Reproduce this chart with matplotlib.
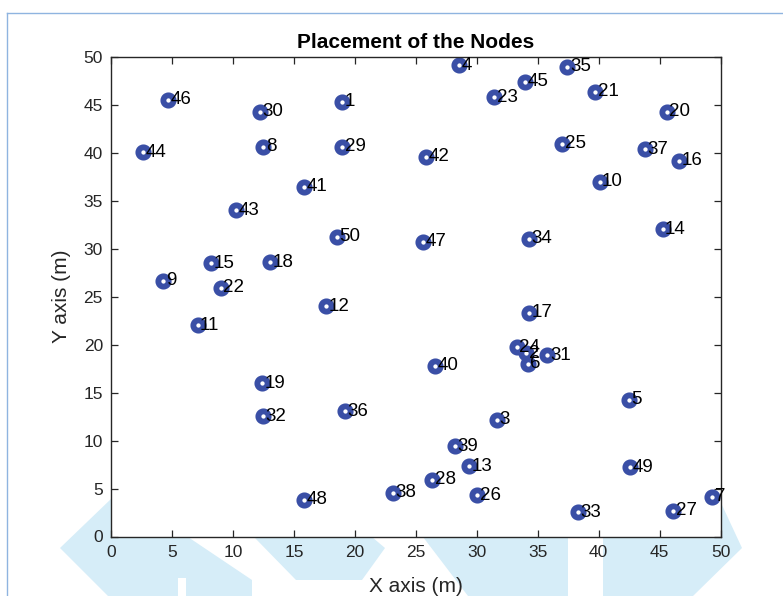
import matplotlib
matplotlib.use("Agg")
import matplotlib.pyplot as plt
from matplotlib.patches import Polygon
from matplotlib.lines import Line2D

plt.rcParams['font.family'] = ['Liberation Sans', 'DejaVu Sans']

# Node ids and coordinates (m)
node_ids = list(range(1, 51))
node_x = [18.97, 34.05, 31.64, 28.55, 42.50, 34.20, 49.34, 12.48, 4.27, 40.07,
          7.09, 17.60, 29.34, 45.24, 8.19, 46.63, 34.29, 13.00, 12.40, 45.60,
          39.71, 8.98, 31.42, 33.30, 37.03, 30.02, 46.14, 26.35, 18.97, 12.21,
          35.80, 12.45, 38.32, 34.29, 37.44, 19.19, 43.82, 23.15, 28.22, 26.58,
          15.82, 25.84, 10.24, 2.63, 33.97, 4.63, 25.57, 15.82, 42.58, 18.50]
node_y = [45.29, 19.10, 12.14, 49.11, 14.22, 18.00, 4.15, 40.60, 26.65, 36.96,
          22.00, 24.01, 7.34, 32.03, 28.46, 39.15, 23.31, 28.56, 15.96, 44.25,
          46.33, 25.92, 45.75, 19.70, 40.89, 4.29, 2.66, 5.89, 40.60, 44.25,
          18.90, 12.55, 2.52, 31.02, 48.94, 13.04, 40.33, 4.56, 9.40, 17.79,
          36.44, 39.56, 34.01, 40.02, 47.38, 45.47, 30.71, 3.83, 7.21, 31.23]

x_ticks = [0, 5, 10, 15, 20, 25, 30, 35, 40, 45, 50]
y_ticks = [0, 5, 10, 15, 20, 25, 30, 35, 40, 45, 50]

W, H = 783, 596
fig = plt.figure(figsize=(W / 100, H / 100), dpi=100)
fig.patch.set_facecolor('white')

def fp(pts):
    return [(px / W, 1 - py / H) for px, py in pts]

wm_color = '#d6edf8'
shapes = [
    [(60, 548), (112, 498), (112, 537), (188, 537), (252, 580), (252, 596),
     (186, 596), (186, 578), (178, 578), (178, 596), (108, 596)],
    [(254, 537), (372, 537), (385, 548), (362, 580), (296, 580)],
    [(423, 537), (568, 537), (568, 596), (468, 596)],
    [(603, 537), (722, 537), (722, 505), (742, 548), (693, 596), (603, 596)],
]
for s in shapes:
    fig.add_artist(Polygon(fp(s), closed=True, transform=fig.transFigure,
                           facecolor=wm_color, edgecolor='none', zorder=-2))

# thin blue frame
border_c = '#8fb4e0'
fig.add_artist(Line2D([6.5 / W, 6.5 / W], [0, 1 - 12.5 / H], transform=fig.transFigure,
                      color=border_c, lw=1.0, zorder=-1))
fig.add_artist(Line2D([6.5 / W, 1], [1 - 12.5 / H, 1 - 12.5 / H], transform=fig.transFigure,
                      color=border_c, lw=1.0, zorder=-1))

ax = fig.add_axes([111.3 / W, 1 - 536.5 / H, (720.5 - 111.3) / W, (536.5 - 56.5) / H])
ax.set_facecolor('white')

ax.plot(node_x, node_y, 'o', linestyle='none', markersize=7.4,
        markerfacecolor='white', markeredgecolor='#3a4fa6', markeredgewidth=4.2, zorder=2)
for i, x, y in zip(node_ids, node_x, node_y):
    ax.text(x + 0.2, y, str(i), ha='left', va='center', fontsize=13.5,
            color='black', zorder=3)

ax.set_xlim(0, 50)
ax.set_ylim(0, 50)
ax.set_xticks(x_ticks)
ax.set_yticks(y_ticks)
ax.set_xticklabels([str(t) for t in x_ticks])
ax.set_yticklabels([str(t) for t in y_ticks])
ax.tick_params(direction='in', length=5, width=0.9, top=True, right=True,
               labelsize=12.5, colors='#262626', pad=6)
for sp in ax.spines.values():
    sp.set_color('#262626')
    sp.set_linewidth(1.0)

ax.set_title('Placement of the Nodes', fontsize=15, fontweight='bold', pad=6)
ax.set_xlabel('X axis (m)', fontsize=15, color='#262626', labelpad=12)
ax.set_ylabel('Y axis (m)', fontsize=15, color='#262626', labelpad=9)

fig.savefig('out.png', dpi=100, facecolor='white')
